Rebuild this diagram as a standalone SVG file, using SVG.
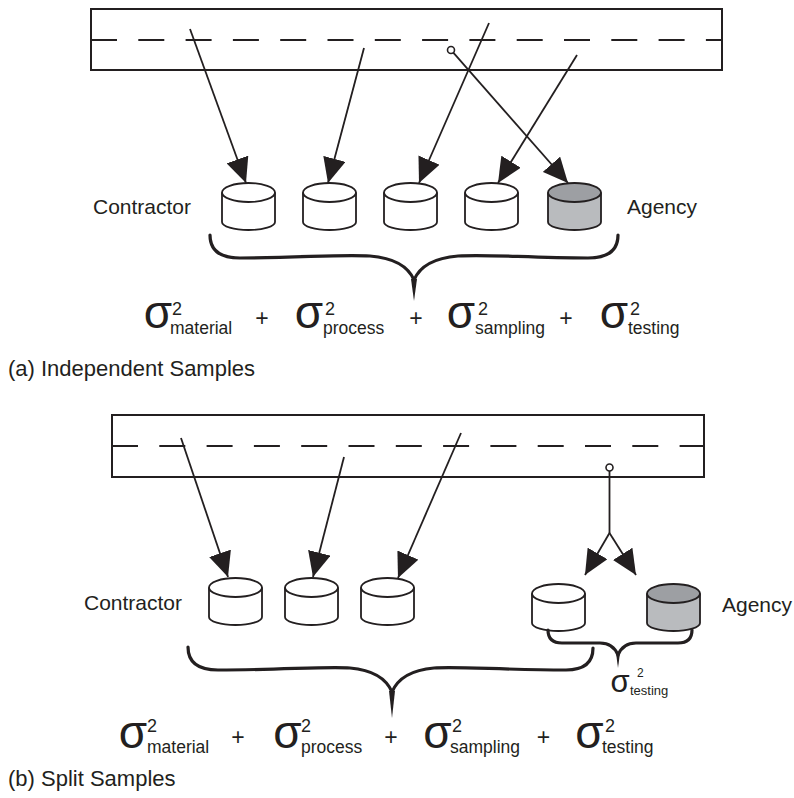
<svg xmlns="http://www.w3.org/2000/svg" xmlns:xlink="http://www.w3.org/1999/xlink" width="794" height="798" viewBox="0 0 794 798">
<style>
.box{fill:none;stroke:#231f20;stroke-width:2}
.dash{fill:none;stroke:#231f20;stroke-width:2;stroke-dasharray:26 21.3}
.ln{fill:none;stroke:#231f20;stroke-width:1.8}
.arr{fill:none;stroke:#231f20;stroke-width:1.8;marker-end:url(#ah)}
.brace{fill:none;stroke:#231f20;stroke-width:3.2;stroke-linecap:round}
.spk{fill:#231f20}
.cyl{stroke:#231f20;stroke-width:1.8}
.lbl{font-family:"Liberation Sans",Arial,sans-serif;font-size:21px;fill:#231f20}
.sig{font-family:"Liberation Sans",Arial,sans-serif;font-size:46px;fill:#231f20;text-anchor:middle}
.sup{font-family:"Liberation Sans",Arial,sans-serif;font-size:18px;fill:#231f20}
.sub{font-family:"Liberation Sans",Arial,sans-serif;font-size:17.5px;fill:#231f20}
.pl{font-family:"Liberation Sans",Arial,sans-serif;font-size:23px;fill:#231f20;text-anchor:middle}
</style>
<defs>
<marker id="ah" markerUnits="userSpaceOnUse" markerWidth="26" markerHeight="23" refX="25" refY="11.5" orient="auto" viewBox="0 0 26 23">
<path d="M0,0 L25,11.5 L0,23 z" fill="#231f20"/>
</marker>
<g id="cylW">
<path class="cyl" fill="#ffffff" d="M0,9.5 L0,39 A26.5,8 0 0 0 53,39 L53,9.5"/>
<ellipse class="cyl" fill="#ffffff" cx="26.5" cy="9.5" rx="26.5" ry="9.5"/>
</g>
<g id="cylG">
<path class="cyl" fill="#b9bbbe" d="M0,9.5 L0,39 A26.5,8 0 0 0 53,39 L53,9.5"/>
<ellipse class="cyl" fill="#9d9fa3" cx="26.5" cy="9.5" rx="26.5" ry="9.5"/>
</g>
</defs>
<rect width="794" height="798" fill="#ffffff"/>

<!-- Part (a) -->
<g id="a-stream">
<rect class="box" x="91" y="9" width="631" height="61"/>
<line class="dash" x1="91" y1="40" x2="722" y2="40"/>
</g>
<g id="a-c1"><use xlink:href="#cylW" x="222" y="183"/></g>
<g id="a-c2"><use xlink:href="#cylW" x="303" y="183"/></g>
<g id="a-c3"><use xlink:href="#cylW" x="384" y="183"/></g>
<g id="a-c4"><use xlink:href="#cylW" x="465" y="183"/></g>
<g id="a-agency"><use xlink:href="#cylG" x="548" y="183"/></g>
<g id="a-connectors">
<line class="arr" x1="190" y1="29" x2="246" y2="183"/>
<line class="arr" x1="364" y1="48" x2="328" y2="183"/>
<line class="arr" x1="489" y1="23" x2="419" y2="183"/>
<line class="arr" x1="577" y1="55" x2="498" y2="183"/>
<line class="arr" x1="453.3" y1="52.6" x2="568" y2="183"/>
<circle cx="451" cy="50" r="3.5" fill="#ffffff" stroke="#231f20" stroke-width="1.6"/>
</g>
<g id="a-labels">
<text class="lbl" x="93" y="214">Contractor</text>
<text class="lbl" x="627" y="214">Agency</text>
</g>
<g id="a-brace">
<path class="brace" d="M210,235 Q210,258 240,258 C300,258 340,254 370,256 C395,258 408,266 414,280 C420,266 433,258 458,256 C488,254 528,258 588,258 Q618,258 618,235"/>
<polygon class="spk" points="411,279 417,279 414,301"/>
</g>
<g id="a-equation">
<text class="sig" x="158" y="328">σ</text><text class="sup" x="172" y="315">2</text><text class="sub" x="170" y="334">material</text>
<text class="pl" x="262" y="326">+</text>
<text class="sig" x="309" y="328">σ</text><text class="sup" x="325" y="315">2</text><text class="sub" x="323" y="334">process</text>
<text class="pl" x="416" y="326">+</text>
<text class="sig" x="461" y="328">σ</text><text class="sup" x="478" y="315">2</text><text class="sub" x="475" y="334">sampling</text>
<text class="pl" x="566" y="326">+</text>
<text class="sig" x="614" y="328">σ</text><text class="sup" x="630" y="315">2</text><text class="sub" x="628" y="334">testing</text>
</g>
<text class="lbl" x="8" y="376" style="font-size:22px">(a) Independent Samples</text>

<!-- Part (b) -->
<g id="b-stream">
<rect class="box" x="112" y="415" width="592" height="62"/>
<line class="dash" x1="112" y1="446" x2="704" y2="446"/>
</g>
<g id="b-c1"><use xlink:href="#cylW" x="209" y="578"/></g>
<g id="b-c2"><use xlink:href="#cylW" x="285" y="578"/></g>
<g id="b-c3"><use xlink:href="#cylW" x="361" y="578"/></g>
<g id="b-split"><use xlink:href="#cylW" x="532" y="584"/></g>
<g id="b-agency"><use xlink:href="#cylG" x="647" y="584"/></g>
<g id="b-connectors">
<line class="arr" x1="181" y1="438" x2="228" y2="577"/>
<line class="arr" x1="344" y1="457" x2="313" y2="577"/>
<line class="arr" x1="461" y1="433" x2="398" y2="578"/>
<line class="ln" x1="609.5" y1="471" x2="609.5" y2="533"/>
<line class="arr" x1="609.5" y1="533" x2="585" y2="575"/>
<line class="arr" x1="609.5" y1="533" x2="636" y2="575"/>
<circle cx="609.5" cy="467.5" r="3.5" fill="#ffffff" stroke="#231f20" stroke-width="1.6"/>
</g>
<g id="b-labels">
<text class="lbl" x="84" y="610">Contractor</text>
<text class="lbl" x="722" y="612">Agency</text>
</g>
<g id="b-brace">
<path class="brace" d="M188,647 Q188,670 218,670 C280,670 330,666 350,668 C373,670 386,678 392,692 C398,678 411,670 434,668 C454,666 504,670 566,670 Q593,670 593,648"/>
<polygon class="spk" points="389,691 395,691 392,718"/>
</g>
<g id="b-small-brace">
<path class="brace" d="M548,630 Q548,643 562,643 L600,643 Q613,643 618,655 Q623,643 636,643 L678,643 Q692,643 692,630"/>
<polygon class="spk" points="616,653 620,653 618,668"/>
<text class="sig" x="620" y="692" style="font-size:31px">σ</text>
<text class="sup" x="637" y="677" style="font-size:12px">2</text>
<text class="sub" x="630" y="695" style="font-size:13px">testing</text>
</g>
<g id="b-equation">
<text class="sig" x="133" y="748">σ</text><text class="sup" x="147" y="732">2</text><text class="sub" x="147" y="753">material</text>
<text class="pl" x="238" y="745">+</text>
<text class="sig" x="287.5" y="748">σ</text><text class="sup" x="301" y="732">2</text><text class="sub" x="301" y="753">process</text>
<text class="pl" x="391" y="745">+</text>
<text class="sig" x="437.5" y="748">σ</text><text class="sup" x="452" y="732">2</text><text class="sub" x="450" y="753">sampling</text>
<text class="pl" x="543.5" y="745">+</text>
<text class="sig" x="589.5" y="748">σ</text><text class="sup" x="605" y="732">2</text><text class="sub" x="602" y="753">testing</text>
</g>
<text class="lbl" x="8" y="786" style="font-size:22px">(b) Split Samples</text>
</svg>
